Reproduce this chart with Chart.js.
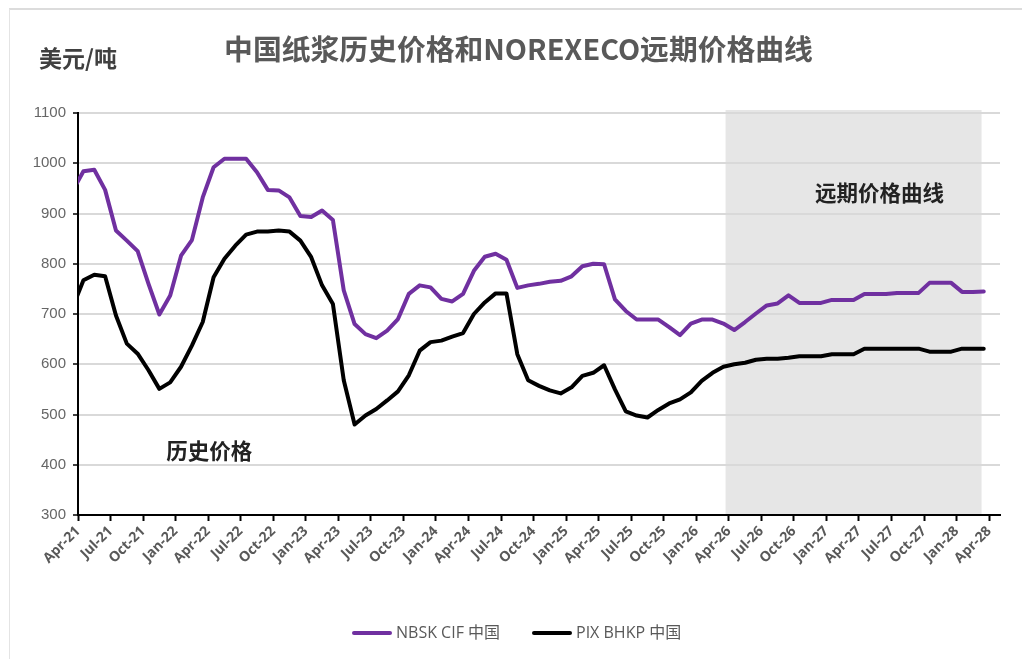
<!DOCTYPE html>
<html>
<head>
<meta charset="utf-8">
<script src="https://cdn.jsdelivr.net/npm/chart.js@4.4.1/dist/chart.umd.min.js"></script>
<style>
  html, body { margin: 0; padding: 0; background: #fff; }
  #wrap { position: relative; width: 1022px; height: 659px; overflow: hidden; }
  #frame { position: absolute; left: 9px; top: 8px; right: -2px; bottom: -2px; border-top: 2px solid #dcdcdc; border-left: 1px solid #e4e4e4; }
  #chart-box { position: absolute; left: 0; top: 0; width: 1022px; height: 659px; }
  #title { position: absolute; left: 0; width: 1037px; top: 31px; text-align: center;
    font: bold 28.8px "Noto Sans CJK SC", sans-serif; color: #595959; line-height: 1.2; }
  #unit { position: absolute; left: 39px; top: 44px; font: bold 23px "Noto Sans CJK SC", sans-serif; color: #404040; line-height: 1.2; }
  #legend { position: absolute; top: 621px; left: 0; width: 1022px; height: 22px; }
  .item { position: absolute; top: 0; font: 16px "Open Sans", "Noto Sans CJK SC", sans-serif; color: #595959; line-height: 22px; white-space: nowrap; }
  .swatch { display: inline-block; width: 40px; height: 4px; border-radius: 2px; vertical-align: middle; margin-right: 4px; position: relative; top: -1px; }
</style>
</head>
<body>
<div id="wrap">
  <div id="frame"></div>
  <div id="chart-box"><canvas id="pulp-chart" width="1022" height="659"></canvas></div>
  <div id="title">中国纸浆历史价格和NOREXECO远期价格曲线</div>
  <div id="unit">美元/吨</div>
  <div id="legend">
    <div class="item" style="left:352px"><span class="swatch" style="background:#7030a0"></span>NBSK CIF 中国</div>
    <div class="item" style="left:532px"><span class="swatch" style="background:#000"></span>PIX BHKP 中国</div>
  </div>
</div>
<script>
// Bulan (titik data di tengah bulan)
const months = [
  "Mar-21", "Apr-21", "May-21", "Jun-21", "Jul-21", "Aug-21", "Sep-21", "Oct-21", "Nov-21", "Dec-21",
  "Jan-22", "Feb-22", "Mar-22", "Apr-22", "May-22", "Jun-22", "Jul-22", "Aug-22", "Sep-22", "Oct-22", "Nov-22", "Dec-22",
  "Jan-23", "Feb-23", "Mar-23", "Apr-23", "May-23", "Jun-23", "Jul-23", "Aug-23", "Sep-23", "Oct-23", "Nov-23", "Dec-23",
  "Jan-24", "Feb-24", "Mar-24", "Apr-24", "May-24", "Jun-24", "Jul-24", "Aug-24", "Sep-24", "Oct-24", "Nov-24", "Dec-24",
  "Jan-25", "Feb-25", "Mar-25", "Apr-25", "May-25", "Jun-25", "Jul-25", "Aug-25", "Sep-25", "Oct-25", "Nov-25", "Dec-25",
  "Jan-26", "Feb-26", "Mar-26", "Apr-26", "May-26", "Jun-26", "Jul-26", "Aug-26", "Sep-26", "Oct-26", "Nov-26", "Dec-26",
  "Jan-27", "Feb-27", "Mar-27", "Apr-27", "May-27", "Jun-27", "Jul-27", "Aug-27", "Sep-27", "Oct-27", "Nov-27", "Dec-27",
  "Jan-28", "Feb-28", "Mar-28"
];

// Label sumbu X (tiap 3 bulan, mulai Apr-21)
const tickLabels = [
  "Apr-21", "Jul-21", "Oct-21", "Jan-22", "Apr-22", "Jul-22", "Oct-22", "Jan-23", "Apr-23", "Jul-23",
  "Oct-23", "Jan-24", "Apr-24", "Jul-24", "Oct-24", "Jan-25", "Apr-25", "Jul-25", "Oct-25", "Jan-26",
  "Apr-26", "Jul-26", "Oct-26", "Jan-27", "Apr-27", "Jul-27", "Oct-27", "Jan-28", "Apr-28"
];

// Harga (USD/ton)
const nbskCif = [
  945, 984, 987, 947, 866, 846, 825, 760, 699, 737,
  816, 847, 932, 992, 1009, 1009, 1009, 982, 947, 946, 932, 895,
  893, 906, 887, 747, 680, 660, 652, 667, 690, 740, 757, 753,
  730, 725, 740, 786, 814, 820, 808, 752, 757, 760, 764, 766,
  775, 795, 800, 799, 729, 706, 689, 689, 689, 674, 658, 681,
  689, 689, 681, 668, 684, 701, 717, 721, 737, 722, 722, 722,
  728, 728, 728, 740, 740, 740, 742, 742, 742, 762, 762, 762,
  744, 744, 745
];

const pixBhkp = [
  713, 767, 778, 775, 697, 641, 621, 588, 551, 564,
  595, 637, 684, 773, 810, 836, 858, 864, 864, 866, 864, 846,
  813, 757, 720, 568, 480, 498, 511, 528, 546, 578, 627, 644,
  647, 655, 662, 700, 723, 741, 741, 620, 568, 557, 548, 542,
  554, 577, 583, 598, 550, 506, 498, 494, 509, 522, 530, 544,
  567, 583, 595, 600, 603, 609, 611, 611, 613, 616, 616, 616,
  620, 620, 620, 631, 631, 631, 631, 631, 631, 625, 625, 625,
  631, 631, 631
];

// Rentang kurva forward (bulan sejak Apr-21)
const forecastFrom = 59.7;
const forecastTo = 83.3;

// titik ke-i berada di tengah bulan -> x = i - 0.5
const toPoints = (arr) => arr.map((v, i) => ({ x: i - 0.5, y: v }));

const shadePlugin = {
  id: "forecastShade",
  beforeDraw(chart) {
    const { ctx, chartArea, scales } = chart;
    const x1 = scales.x.getPixelForValue(forecastFrom);
    const x2 = scales.x.getPixelForValue(forecastTo);
    ctx.save();
    ctx.fillStyle = "#e6e6e6";
    ctx.fillRect(x1, chartArea.top - 3, x2 - x1, chartArea.bottom - chartArea.top + 3);
    ctx.restore();
  }
};

const notePlugin = {
  id: "notes",
  afterDatasetsDraw(chart) {
    const { ctx, scales } = chart;
    ctx.save();
    ctx.font = "bold 21.5px 'Noto Sans CJK SC', sans-serif";
    ctx.fillStyle = "#222";
    ctx.textAlign = "center";
    ctx.textBaseline = "middle";
    ctx.fillText("远期价格曲线", scales.x.getPixelForValue(73.9), scales.y.getPixelForValue(942));
    ctx.fillText("历史价格", scales.x.getPixelForValue(12.1), scales.y.getPixelForValue(427));
    ctx.restore();
  }
};

const ctx = document.getElementById("pulp-chart").getContext("2d");
new Chart(ctx, {
  type: "line",
  data: {
    datasets: [
      {
        label: "NBSK CIF 中国",
        data: toPoints(nbskCif),
        borderColor: "#7030a0",
        borderWidth: 4,
        pointRadius: 0,
        tension: 0,
        borderJoinStyle: "round",
        borderCapStyle: "round",
        clip: { left: 0, top: false, right: false, bottom: false }
      },
      {
        label: "PIX BHKP 中国",
        data: toPoints(pixBhkp),
        borderColor: "#000000",
        borderWidth: 4,
        pointRadius: 0,
        tension: 0,
        borderJoinStyle: "round",
        borderCapStyle: "round",
        clip: { left: 0, top: false, right: false, bottom: false }
      }
    ]
  },
  options: {
    responsive: false,
    animation: false,
    layout: { padding: { top: 113, right: 22, left: 0, bottom: 0 } },
    plugins: {
      legend: { display: false },
      tooltip: { enabled: false }
    },
    scales: {
      x: {
        type: "linear",
        min: 0,
        max: 85,
        afterBuildTicks: (scale) => {
          scale.ticks = tickLabels.map((t, i) => ({ value: i * 3 }));
        },
        afterFit: (scale) => { scale.height = 144; },
        ticks: {
          callback: (value) => tickLabels[Math.round(value / 3)],
          autoSkip: false,
          minRotation: 45,
          maxRotation: 45,
          padding: 2,
          color: "#595959",
          font: { family: "'Open Sans', sans-serif", size: 14, weight: "bold" }
        },
        grid: { drawOnChartArea: false, tickLength: 6, tickColor: "#000", tickWidth: 2 },
        border: { color: "#000", width: 2 }
      },
      y: {
        min: 300,
        max: 1100,
        afterFit: (scale) => { scale.width = 78; },
        ticks: {
          stepSize: 100,
          padding: 7,
          color: "#666",
          callback: (value) => String(value),
          font: { family: "'Liberation Sans', Arial, sans-serif", size: 15 }
        },
        grid: { color: "#d9d9d9", lineWidth: 2, tickLength: 5, tickColor: "#000", tickWidth: 1.5 },
        border: { color: "#000", width: 2 }
      }
    }
  },
  plugins: [shadePlugin, notePlugin]
});
</script>
</body>
</html>
